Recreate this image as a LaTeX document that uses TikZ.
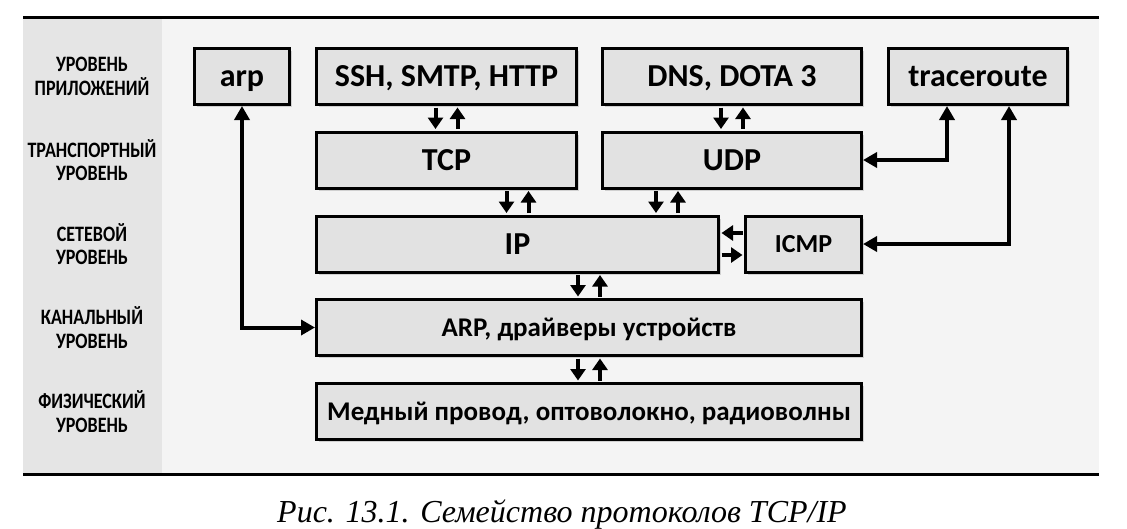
\documentclass[tikz,border=0pt]{standalone}
\usepackage{fontspec}
\setmainfont{Carlito}
\newfontfamily\labelfont{Carlito}[FakeStretch=0.82]
\newfontfamily\capfont{Liberation Serif}
\usetikzlibrary{arrows.meta,shadows}
\definecolor{band}{gray}{0.90}
\definecolor{panel}{gray}{0.955}
\definecolor{boxfill}{gray}{0.885}
\begin{document}
\begin{tikzpicture}[x=1pt,y=-1pt,
  box/.style={draw, line width=3pt, fill=boxfill, inner sep=0pt,
    minimum height=56pt, text height=20.6pt, text depth=0pt,
    drop shadow={shadow xshift=2.5pt, shadow yshift=-2.5pt, opacity=.3},
    font=\bfseries\fontsize{32}{36}\selectfont},
  cyr/.style={font=\bfseries\fontsize{27}{31}\selectfont, text height=17.4pt},
  layer/.style={align=center, inner sep=0pt,
    font=\labelfont\bfseries\fontsize{22}{23.5}\selectfont},
  bigarr/.style={line width=4pt, {Triangle[width=15pt,length=14pt]}-{Triangle[width=15pt,length=14pt]}},
  sarr/.style={line width=4pt, -{Triangle[width=15pt,length=11.5pt]}, shorten <=1.5pt, shorten >=1.5pt},
  rulestyle/.style={line width=3pt}]
\useasboundingbox[fill=white] (0,0) rectangle (1127,528);
% backgrounds
\fill[band] (23,18) rectangle (162,473);
\fill[panel] (162,18) rectangle (1099,473);
\coordinate (tl) at (23,17); \coordinate (tr) at (1099,17);
\coordinate (bl) at (23,474.5); \coordinate (br) at (1099,474.5);
\draw[rulestyle] (tl) -- (tr);
\draw[rulestyle] (bl) -- (br);
% layer labels
\node[layer] (l1) at (92,76.5) {УРОВЕНЬ\\ПРИЛОЖЕНИЙ};
\node[layer] (l2) at (92,160) {ТРАНСПОРТНЫЙ\\УРОВЕНЬ};
\node[layer] (l3) at (92,244) {СЕТЕВОЙ\\УРОВЕНЬ};
\node[layer] (l4) at (92,327.5) {КАНАЛЬНЫЙ\\УРОВЕНЬ};
\node[layer] (l5) at (92,411.5) {ФИЗИЧЕСКИЙ\\УРОВЕНЬ};
% boxes
\node[box, minimum width=95pt] (arp) at (242,76.5) {arp};
\node[box, minimum width=260pt] (ssh) at (446.5,76.5) {SSH, SMTP, HTTP};
\node[box, minimum width=259pt] (dns) at (732,76.5) {DNS, DOTA 3};
\node[box, minimum width=179pt] (trc) at (978,76.5) {traceroute};
\node[box, minimum width=260pt] (tcp) at (446.5,160) {TCP};
\node[box, minimum width=259pt] (udp) at (732,160) {UDP};
\node[box, minimum width=402pt] (ip) at (517.5,244) {IP};
\node[box, minimum width=116pt, font=\bfseries\fontsize{26}{30}\selectfont, text height=16.7pt] (icmp) at (803.5,244) {ICMP};
\node[box, cyr, minimum width=545pt] (drv) at (589,327.5) {ARP, драйверы устройств};
\node[box, cyr, minimum width=545pt] (phy) at (589,411.5) {Медный провод, оптоволокно, радиоволны};
% small arrow pairs
\draw[sarr] ([xshift=-11pt]ssh.south) -- ([xshift=-11pt]ssh.south |- tcp.north);
\draw[sarr] ([xshift=11pt]ssh.south |- tcp.north) -- ([xshift=11pt]ssh.south);
\draw[sarr] ([xshift=-11pt]dns.south) -- ([xshift=-11pt]dns.south |- udp.north);
\draw[sarr] ([xshift=11pt]dns.south |- udp.north) -- ([xshift=11pt]dns.south);
\draw[sarr] ([xshift=-11pt]ip.north |- tcp.south) -- ([xshift=-11pt]ip.north);
\draw[sarr] ([xshift=11pt]ip.north) -- ([xshift=11pt]ip.north |- tcp.south);
\draw[sarr] ([xshift=-76pt]udp.south) -- ([xshift=-76pt]udp.south |- ip.north);
\draw[sarr] ([xshift=-54pt]udp.south |- ip.north) -- ([xshift=-54pt]udp.south);
\draw[sarr] ([xshift=-11pt]ip.south -| drv.north) -- ([xshift=-11pt]drv.north);
\draw[sarr] ([xshift=11pt]drv.north) -- ([xshift=11pt]ip.south -| drv.north);
\draw[sarr] ([xshift=-11pt]drv.south) -- ([xshift=-11pt]phy.north);
\draw[sarr] ([xshift=11pt]phy.north) -- ([xshift=11pt]drv.south);
\draw[sarr] ([yshift=11pt]icmp.west) -- ([yshift=11pt]icmp.west -| ip.east);
\draw[sarr] ([yshift=-11pt]icmp.west -| ip.east) -- ([yshift=-11pt]icmp.west);
% big connectors
\draw[bigarr] (arp.south) |- (drv.west);
\draw[bigarr] (udp.east) -| ([xshift=-31pt]trc.south);
\draw[bigarr] (icmp.east) -| ([xshift=31pt]trc.south);
% caption
\node[anchor=base, inner sep=0pt, font=\capfont\itshape\fontsize{32}{36}\selectfont] (cap) at (562,522) {Рис. 13.1. Семейство протоколов TCP/IP};
\end{tikzpicture}
\end{document}
